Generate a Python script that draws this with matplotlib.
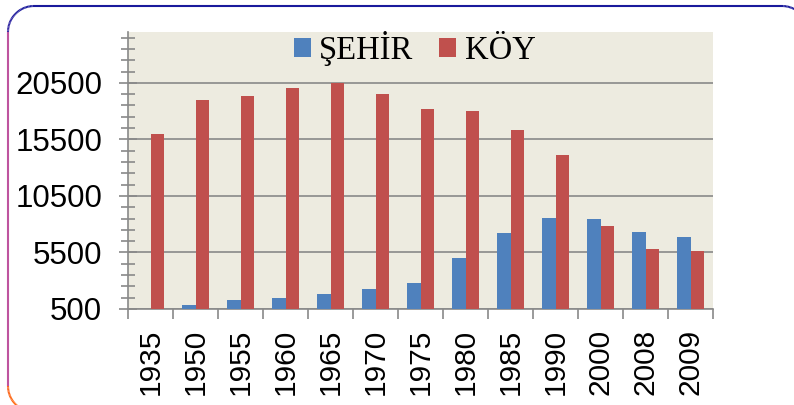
import matplotlib.pyplot as plt
import numpy as np
from matplotlib.collections import LineCollection
from matplotlib.colors import LinearSegmentedColormap
from matplotlib.ticker import FixedLocator, NullFormatter

years = ['1935', '1950', '1955', '1960', '1965', '1970', '1975',
         '1980', '1985', '1990', '2000', '2008', '2009']
sehir = [300, 850, 1270, 1500, 1830, 2270, 2830, 4990, 7250, 8530, 8440, 7310, 6870]
koy = [15990, 19000, 19350, 20030, 20470, 19500, 18230, 18020, 16310, 14100, 7870, 5810, 5600]
y_ticks = [500, 5500, 10500, 15500, 20500]

blue = '#4F81BD'
red = '#C0504D'
grid_gray = '#898989'

fig = plt.figure(figsize=(7.94, 4.05), dpi=100)

# rounded outer frame with a colour gradient (navy top -> orange bottom)
W, H = 794, 405
x0, x1, y0, y1, r = 8, 808, 6, 412, 26
t = np.linspace(0, np.pi / 2, 30)
pts = [(x1, y1), (x1, y0 + r)] + list(zip(x1 - r + r * np.cos(t), y0 + r - r * np.sin(t)))
pts += list(zip(x0 + r - r * np.sin(t), y0 + r - r * np.cos(t)))
pts += list(zip(x0 + r - r * np.cos(t), y1 - r + r * np.sin(t)))
pts += [(x1, y1)]
pts = np.array(pts)
segs = np.stack([pts[:-1], pts[1:]], axis=1)
ymid = segs[:, :, 1].mean(axis=1)
cmap = LinearSegmentedColormap.from_list(
    'frame', [(0, '#1a1a9c'), (0.12, '#5a3fae'), (0.45, '#b454a8'), (0.75, '#e8527a'), (1, '#ff6a10')])
segs_fig = segs.copy()
segs_fig[:, :, 0] /= W
segs_fig[:, :, 1] = 1 - segs_fig[:, :, 1] / H
lc = LineCollection(segs_fig, colors=cmap((ymid - y0) / (H - y0)), linewidths=1.5,
                    transform=fig.transFigure)
fig.add_artist(lc)

ax = fig.add_axes([128 / W, 1 - 309 / H, (713 - 128) / W, (309 - 32) / H])
ax.set_facecolor('#EDEBE0')

x = np.arange(len(years))
w = 0.29
ax.bar(x - w / 2, sehir, width=w, color=blue, label='ŞEHİR', zorder=3)
ax.bar(x + w / 2, koy, width=w, color=red, label='KÖY', zorder=3)

ax.set_xlim(-0.5, len(years) - 0.5)
ax.set_ylim(500, 25000)

ax.yaxis.set_major_locator(FixedLocator(y_ticks))
ax.yaxis.set_minor_locator(FixedLocator(np.arange(500, 25000, 1000)))
ax.grid(axis='y', which='major', color=grid_gray, linewidth=1.2, zorder=1)
ax.set_axisbelow(True)

ax.xaxis.set_major_locator(FixedLocator(np.arange(-0.5, len(years), 1)))
ax.xaxis.set_major_formatter(NullFormatter())
ax.xaxis.set_minor_locator(FixedLocator(x))
ax.set_xticklabels(years, minor=True, rotation=90, fontsize=21.5, family='Liberation Sans')
ax.tick_params(axis='x', which='major', direction='out', length=7, width=1.2, color=grid_gray)
ax.tick_params(axis='x', which='minor', length=0, pad=14)

ax.set_yticklabels([str(v) for v in y_ticks], fontsize=22.5, family='Liberation Sans')
ax.tick_params(axis='y', which='major', direction='inout', length=13, width=1.2,
               color=grid_gray, pad=12)
ax.tick_params(axis='y', which='minor', direction='inout', length=10, width=1.2, color=grid_gray)

for s in ['top', 'right']:
    ax.spines[s].set_visible(False)
for s in ['left', 'bottom']:
    ax.spines[s].set_color(grid_gray)
    ax.spines[s].set_linewidth(1.2)

ax.legend(loc='upper center', bbox_to_anchor=(0.49, 1.11), ncol=2, frameon=False,
          prop={'family': 'Liberation Serif', 'size': 23.5},
          handlelength=0.52, handleheight=0.52, handletextpad=0.25, columnspacing=0.8)

fig.savefig('out.png', dpi=100)
